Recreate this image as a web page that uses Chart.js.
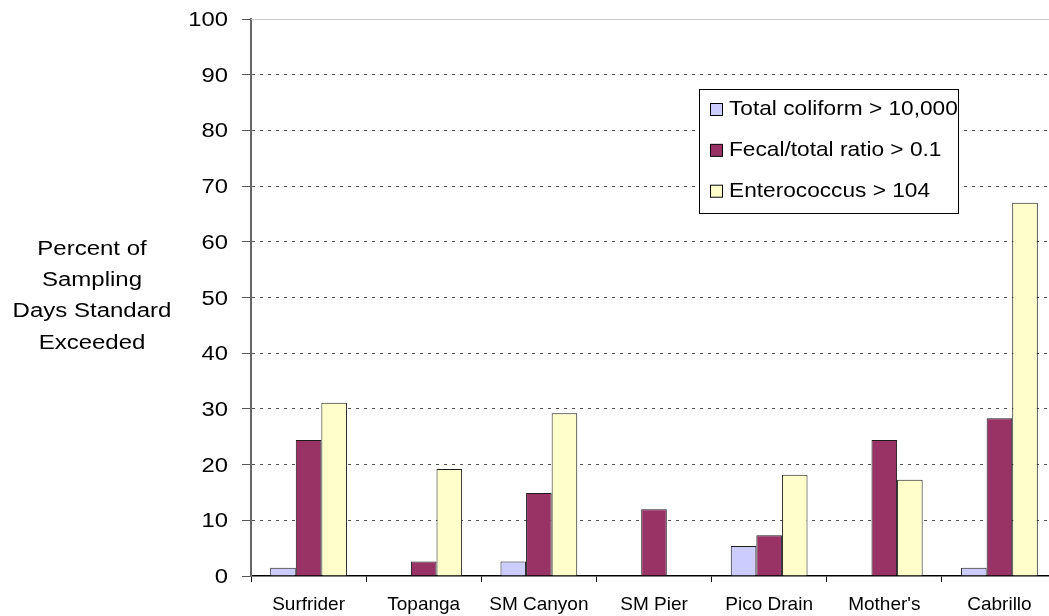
<!DOCTYPE html>
<html>
<head>
<meta charset="utf-8">
<script src="https://cdn.jsdelivr.net/npm/chart.js@4/dist/chart.umd.min.js"></script>
<style>
  html, body { margin: 0; padding: 0; background: #fff; overflow: hidden; }
  #wrap { width: 1060px; height: 616px; }
</style>
</head>
<body>
<div id="wrap"><canvas id="chart" width="1060" height="616"></canvas></div>
<script>
// beach sites along the bay
const SITES = ["Surfrider", "Topanga", "SM Canyon", "SM Pier", "Pico Drain", "Mother's", "Cabrillo"];

// percent of sampling days each standard was exceeded
const TOTAL_COLIFORM = [1.5, 0, 2.6, 0, 5.4, 0, 1.5];
const FECAL_RATIO = [24.4, 2.6, 14.9, 12, 7.3, 24.4, 28.3];
const ENTEROCOCCUS = [31.1, 19.2, 29.2, 0, 18.2, 17.3, 67];

const SERIES_NAMES = ["Total coliform > 10,000", "Fecal/total ratio > 0.1", "Enterococcus > 104"];
const Y_TITLE = ["Percent of", "Sampling", "Days Standard", "Exceeded"];
const Y_TICKS = [0, 10, 20, 30, 40, 50, 60, 70, 80, 90, 100];

const FONT = "'Liberation Sans', Arial, sans-serif";

// text drawn a little wider than the font normally is
function wideText(ctx, text, x, y, stretch) {
  ctx.save();
  ctx.translate(x, y);
  ctx.scale(stretch, 1);
  ctx.fillText(text, 0, 0);
  ctx.restore();
}

// y tick labels and the multi-line title left of them
const yLabelsPlugin = {
  id: "yLabels",
  afterDraw(chart) {
    const ctx = chart.ctx;
    const y = chart.scales.y;
    ctx.save();
    ctx.fillStyle = "#000";
    ctx.font = "19.5px " + FONT;
    ctx.textAlign = "right";
    ctx.textBaseline = "alphabetic";
    Y_TICKS.forEach((v) => wideText(ctx, String(v), 228, y.getPixelForValue(v) + 7, 1.22));
    ctx.font = "20px " + FONT;
    ctx.textAlign = "center";
    Y_TITLE.forEach((line, i) => wideText(ctx, line, 92, 255 + i * 31.2, 1.2));
    ctx.restore();
  },
};

// light frame line along the top of the plot
const topEdgePlugin = {
  id: "topEdge",
  beforeDatasetsDraw(chart) {
    const { ctx, chartArea } = chart;
    ctx.save();
    ctx.strokeStyle = "#c8c8c8";
    ctx.lineWidth = 1;
    ctx.beginPath();
    ctx.moveTo(chartArea.left, chartArea.top + 0.5);
    ctx.lineTo(chartArea.right, chartArea.top + 0.5);
    ctx.stroke();
    ctx.restore();
  },
};

// boxed legend sitting inside the plot area
const boxLegendPlugin = {
  id: "boxLegend",
  afterDraw(chart) {
    const ctx = chart.ctx;
    const x = 699.5, y = 89.5, w = 259, h = 124;
    ctx.save();
    ctx.fillStyle = "#fff";
    ctx.fillRect(x, y, w, h);
    ctx.strokeStyle = "#000";
    ctx.lineWidth = 1;
    ctx.strokeRect(x, y, w, h);
    ctx.textBaseline = "alphabetic";
    ctx.textAlign = "left";
    ctx.font = "21px " + FONT;
    chart.data.datasets.forEach((ds, i) => {
      const base = 115 + i * 40.85;
      ctx.fillStyle = ds.backgroundColor;
      ctx.fillRect(710.5, base - 11.5, 12, 12);
      ctx.strokeStyle = "#000";
      ctx.strokeRect(710.5, base - 11.5, 12, 12);
      ctx.fillStyle = "#000";
      wideText(ctx, ds.label, 729, base, 1.08);
    });
    ctx.restore();
  },
};

function makeSet(label, data, color) {
  return {
    label,
    data,
    backgroundColor: color,
    borderColor: "#1a1a1a",
    borderWidth: 1,
    borderSkipped: "bottom",
    categoryPercentage: 3 / 4.5,
    barPercentage: 1,
  };
}

new Chart(document.getElementById("chart"), {
  type: "bar",
  data: {
    labels: SITES,
    datasets: [
      makeSet(SERIES_NAMES[0], TOTAL_COLIFORM, "#ccccff"),
      makeSet(SERIES_NAMES[1], FECAL_RATIO, "#993366"),
      makeSet(SERIES_NAMES[2], ENTEROCOCCUS, "#ffffcc"),
    ],
  },
  options: {
    responsive: false,
    animation: false,
    devicePixelRatio: 1,
    layout: { padding: { left: 0, right: 3, top: 19, bottom: 0 } },
    plugins: {
      legend: { display: false },
      tooltip: { enabled: false },
    },
    scales: {
      x: {
        afterFit(scale) { scale.height = 40; },
        grid: {
          drawOnChartArea: false,
          drawTicks: true,
          tickLength: 6,
          tickColor: "#000",
          offset: true,
        },
        border: { color: "#000", width: 1.5 },
        ticks: {
          color: "#000",
          font: { family: FONT, size: 19 },
          padding: 11,
          maxRotation: 0,
          autoSkip: false,
        },
      },
      y: {
        min: 0,
        max: 100,
        afterFit(scale) { scale.width = 251; },
        grid: {
          color: (c) => (c.tick && (c.tick.value === 0 || c.tick.value === 100) ? "rgba(0,0,0,0)" : "#505050"),
          lineWidth: 1,
          tickLength: 9,
          tickColor: "#555",
          tickBorderDash: [],
        },
        border: { color: "#666", width: 2, dash: [3, 5] },
        ticks: {
          display: false,
          stepSize: 10,
        },
      },
    },
  },
  plugins: [topEdgePlugin, yLabelsPlugin, boxLegendPlugin],
});
</script>
</body>
</html>
